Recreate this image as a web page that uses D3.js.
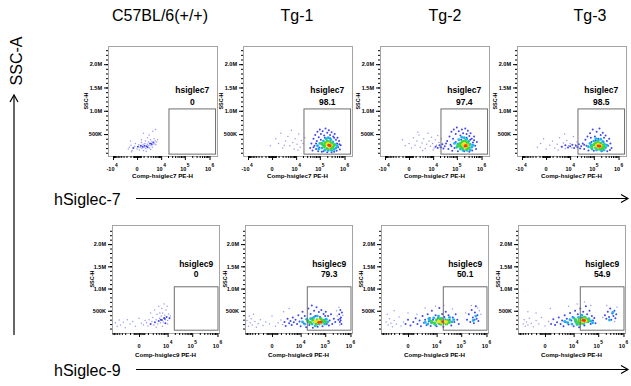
<!DOCTYPE html>
<html>
<head>
<meta charset="utf-8">
<script src="https://cdn.jsdelivr.net/npm/d3@7"></script>
<style>
  body { margin: 0; background: #fff; }
  svg { display: block; }
  text { font-family: Arial, "Liberation Sans", sans-serif; }
</style>
</head>
<body>
<svg id="chart" width="631" height="386"></svg>
<script>
// ---- data ----
const groups = ["C57BL/6(+/+)", "Tg-1", "Tg-2", "Tg-3"];
const markers = ["hSiglec-7", "hSiglec-9"];
const gateNames = ["hsiglec7", "hsiglec9"];
const xLabels = ["Comp-hsiglec7 PE-H", "Comp-hsiglec9 PE-H"];
const pct7 = ["0", "98.1", "97.4", "98.5"];
const pct9 = ["0", "79.3", "50.1", "54.9"];

// y in thousands (SSC-H)
const yTickVals = [500, 1000, 1500, 2000];
const yTickLabels = ["500K", "1.0M", "1.5M", "2.0M"];
const yMinorVals = d3.range(100, 2400, 100);
const xTickVals = [-10000, 0, 1e4, 1e5, 1e6];
const xTickBase = ["-10", "0", "10", "10", "10"];
const xTickExp = ["4", "", "4", "5", "6"];
const xMinorVals = [-9000, -8000, -7000, -6000, -5000, -4000, -3000, -2000, -1000,
  -500, -400, -300, -200, -100, 100, 200, 300, 400, 500,
  1000, 2000, 3000, 4000, 5000, 6000, 7000, 8000, 9000,
  2e4, 3e4, 4e4, 5e4, 6e4, 7e4, 8e4, 9e4, 2e5, 3e5, 4e5, 5e5, 6e5, 7e5, 8e5, 9e5, 2e6];

// gates: x in PE-H units, y in thousands
const gate7 = { x: [22000, 1750000], y: [70, 1040] };
const gate9 = { x: [19000, 1050000], y: [63, 1040] };

// events: [PE-H, SSC-H (K), density level 0..5]
const hs7_wt = [[-1500,180,0],[-1200,220,0],[-900,260,0],[-700,150,0],[-500,200,1],[-300,240,0],[-200,300,0],[0,180,0],[100,230,1],[200,270,0],[300,160,0],[400,210,0],[500,250,1],[600,320,0],[700,190,0],[800,230,1],[900,280,0],[1000,150,0],[1100,210,0],[1200,250,1],[1300,300,0],[1400,350,0],[1500,190,0],[1700,240,1],[1900,280,0],[2000,220,1],[2200,330,0],[2400,260,0],[2600,200,0],[2800,300,1],[3000,380,0],[3200,250,0],[3400,290,1],[3600,340,0],[3800,220,0],[4000,270,0],[4300,320,1],[4600,400,0],[5000,290,0],[5300,350,0],[5700,270,0],[6200,330,0],[6800,380,0],[-800,120,0],[1600,130,0],[2500,480,0],[4000,560,0],[1000,520,0],[5500,600,0],[-1000,350,0],[3000,170,0],[600,380,0],[2000,420,0]];

const hs7_tg1 = [[-200,250,0],[500,400,0],[1000,300,0],[1500,520,0],[2000,200,0],[3000,350,0],[4000,450,0],[5000,250,0],[6000,580,0],[7000,320,0],[8000,180,0],[9000,400,0],[11000,280,0],[13000,500,0],[15000,220,0],[17000,360,0],[20000,300,0],[24000,420,0],[2500,260,0],[12000,160,0],
  [40000,200,1],[45000,300,1],[50000,150,1],[55000,400,1],[60000,250,1],[65000,480,1],[70000,180,1],[75000,350,1],[80000,550,1],[85000,130,1],[90000,430,1],[100000,600,1],[110000,500,1],[120000,120,1],[130000,560,1],[150000,470,1],[170000,620,1],[200000,530,1],[230000,580,1],[260000,480,1],[300000,540,1],[350000,450,1],[400000,500,1],[450000,380,1],[500000,300,1],[550000,220,1],[600000,350,1],[650000,170,1],[700000,260,1],[480000,140,1],[380000,120,1],[300000,110,1],[200000,110,1],[140000,130,1],[95000,210,1],[70000,300,1],[55000,220,1],[110000,380,1],[160000,420,1],[260000,410,1],[380000,420,1],[520000,420,1],[620000,280,1],
  [80000,250,2],[100000,300,2],[120000,200,2],[140000,350,2],[160000,160,2],[180000,400,2],[220000,420,2],[280000,380,2],[340000,330,2],[400000,280,2],[450000,200,2],[380000,170,2],[300000,150,2],[220000,150,2],[130000,270,2],[90000,180,2],[500000,250,2],
  [120000,300,3],[150000,230,3],[170000,310,3],[200000,350,3],[250000,330,3],[300000,300,3],[330000,220,3],[280000,190,3],[200000,190,3],[160000,270,3],[380000,260,3],
  [200000,280,4],[240000,230,4],[280000,260,4],[220000,300,4],
  [230000,260,5],[260000,250,5]];

const hs7_tg2 = [[0,300,0],[300,200,0],[600,420,0],[900,260,0],[1300,350,0],[1800,480,0],[2200,220,0],[2800,310,0],[3500,400,0],[4200,190,0],[5000,280,0],[5800,520,0],[6500,350,0],[7500,240,0],[8500,430,0],[9500,300,0],[11000,200,0],[12500,380,0],[14000,260,0],[16000,470,0],[18000,320,0],[20000,220,0],[23000,400,0],[26000,280,0],[3000,150,0],[10000,160,0],[1500,540,0],[-500,250,0],[-1000,380,0],
  [13000,230,1],[16000,200,1],[19000,260,1],[22000,220,1],[25000,280,1],[28000,190,1],[32000,240,1],[36000,300,1],
  [40000,350,1],[45000,180,1],[50000,450,1],[55000,270,1],[60000,550,1],[65000,140,1],[70000,400,1],[75000,600,1],[80000,200,1],[90000,500,1],[100000,640,1],[110000,130,1],[120000,560,1],[140000,470,1],[160000,600,1],[180000,520,1],[200000,130,1],[220000,620,1],[250000,500,1],[280000,570,1],[320000,460,1],[360000,520,1],[400000,400,1],[450000,320,1],[500000,450,1],[550000,250,1],[600000,180,1],[650000,330,1],[420000,150,1],[320000,120,1],[150000,380,1],[250000,420,1],[350000,380,1],[90000,330,1],[60000,240,1],[500000,370,1],
  [80000,300,2],[100000,220,2],[120000,380,2],[140000,180,2],[160000,430,2],[200000,420,2],[250000,390,2],[300000,340,2],[350000,280,2],[400000,220,2],[350000,160,2],[260000,150,2],[180000,150,2],[110000,290,2],[450000,260,2],
  [110000,250,3],[140000,300,3],[170000,340,3],[210000,350,3],[260000,320,3],[310000,270,3],[300000,200,3],[240000,180,3],[170000,200,3],[140000,240,3],
  [180000,270,4],[220000,220,4],[260000,260,4],[200000,300,4],
  [215000,245,5],[240000,250,5]];

const hs7_tg3 = [[-1500,220,0],[-800,300,0],[0,180,0],[500,260,0],[1000,350,0],[1500,200,0],[2200,280,0],[3000,420,0],[3800,230,0],[4800,310,0],[6000,190,0],[7000,360,0],[8500,250,0],[10000,300,0],[12000,200,0],[14000,450,0],[17000,270,0],[20000,330,0],[2500,160,0],[5500,500,0],[-300,400,0],
  [4000,230,1],[6000,260,1],[8000,210,1],[10000,240,1],[12500,270,1],[15000,200,1],[18000,250,1],[21000,220,1],[24000,280,1],[27000,190,1],[30000,240,1],
  [35000,300,1],[40000,180,1],[45000,380,1],[50000,250,1],[55000,450,1],[60000,150,1],[70000,520,1],[80000,330,1],[90000,600,1],[100000,140,1],[110000,450,1],[130000,550,1],[150000,400,1],[170000,620,1],[190000,480,1],[210000,130,1],[230000,530,1],[260000,420,1],[300000,470,1],[340000,350,1],[380000,250,1],[420000,400,1],[470000,300,1],[520000,200,1],[450000,160,1],[350000,130,1],[120000,360,1],[250000,330,1],[75000,420,1],[40000,270,1],
  [60000,230,2],[70000,300,2],[85000,180,2],[100000,350,2],[120000,400,2],[150000,360,2],[190000,390,2],[230000,340,2],[270000,280,2],[300000,210,2],[260000,160,2],[200000,150,2],[130000,160,2],[80000,260,2],[340000,260,2],
  [80000,220,3],[100000,270,3],[120000,310,3],[150000,320,3],[190000,300,3],[230000,260,3],[220000,190,3],[170000,180,3],[120000,200,3],[260000,230,3],
  [130000,250,4],[160000,230,4],[190000,250,4],[150000,280,4],
  [150000,245,5],[175000,240,5]];

const hs9_wt = [[-6000,230,0],[-5000,150,0],[-4000,290,0],[-3500,180,0],[-2500,240,0],[-2000,120,0],[-1500,300,0],[-1000,200,0],[-600,260,0],[-300,150,0],[0,330,0],[200,220,0],[400,180,0],[600,280,0],
  [800,230,0],[1000,160,0],[1200,300,0],[1500,200,1],[1800,260,0],[2000,350,0],[2300,180,0],[2600,240,1],[3000,300,0],[3300,420,0],[3600,200,0],[4000,270,1],[4400,330,0],[4800,230,0],[5200,380,0],[5600,290,1],[6000,450,0],[6500,250,0],[7000,340,1],[7500,400,0],[8000,300,0],[8500,520,0],[9000,360,1],[10000,280,0],[11000,430,0],[12000,330,1],[13000,380,0],[2500,520,0],[4000,600,0],[7000,650,0],[9500,600,0],[1500,450,0],[5500,550,0],[3000,130,0],[6000,150,0],[10000,200,0],[4500,450,0],[8000,220,1],
  [5000,300,1],[7500,320,1]];

const hs9_tg1 = [[-8000,200,0],[-7000,280,0],[-6000,150,0],[-5000,230,0],[-4500,320,0],[-4000,180,0],[-3000,260,0],[-2500,130,0],[-2000,210,0],[-1500,300,0],[-1000,170,0],[-600,250,0],[-200,200,0],[0,380,0],[300,150,0],[600,230,0],[1000,290,0],[1300,190,0],[1700,250,1],[2000,160,1],[2500,320,1],[3000,220,1],[3500,270,1],[4000,180,1],[4500,350,1],[5000,240,1],[-3500,420,0],[1500,480,0],[3000,550,0],[-5500,380,0],
  [6000,300,1],[7000,200,1],[8000,400,1],[9000,260,1],[10000,150,1],[11000,330,1],[12000,480,1],[13500,220,1],[15000,380,1],[17000,130,1],[19000,290,1],[21000,550,1],[23000,180,1],[26000,430,1],[29000,620,1],[32000,120,1],[36000,500,1],[40000,380,1],[45000,580,1],[50000,140,1],[56000,470,1],[62000,360,1],[70000,520,1],[78000,150,1],[86000,430,1],[95000,300,1],[105000,480,1],[115000,200,1],[130000,380,1],[150000,280,1],[170000,420,1],[190000,200,1],[220000,320,1],[250000,250,1],[30000,330,1],[55000,280,1],[100000,380,1],[140000,170,1],
  [12000,250,2],[15000,200,2],[18000,310,2],[22000,240,2],[26000,320,2],[30000,200,2],[35000,350,2],[40000,160,2],[48000,380,2],[58000,200,2],[68000,320,2],[80000,250,2],[95000,200,2],[110000,310,2],[125000,250,2],
  [20000,270,3],[26000,230,3],[32000,290,3],[40000,240,3],[48000,290,3],[58000,260,3],[70000,230,3],[85000,280,3],[100000,250,3],[65000,310,3],[45000,200,3],
  [40000,260,4],[52000,250,4],[65000,240,4],[55000,280,4],
  [55000,238,5],[68000,245,5],
  [330000,300,1],[360000,420,1],[380000,250,1],[400000,520,1],[420000,350,1],[440000,200,1],[460000,460,1],[350000,580,0],[300000,380,0],[390000,320,1],[410000,280,1],[370000,180,0],[500000,400,0],[280000,500,0]];

const hs9_tg2 = [[-5000,250,0],[-4000,180,0],[-3500,320,0],[-3000,220,0],[-2500,140,0],[-2000,280,0],[-1500,200,0],[-1000,360,0],[-700,160,0],[-400,250,0],[-4500,420,0],[-2000,500,0],[0,450,0],
  [-200,200,1],[0,300,1],[200,170,1],[500,250,1],[800,330,1],[1100,200,1],[1500,280,1],[1800,150,1],[2200,380,1],[2600,230,1],[3000,300,1],[3500,180,1],[4000,420,1],[4500,260,1],[5000,340,1],[5500,160,1],[6200,500,1],[7000,300,1],[8000,220,1],[9000,400,1],[10000,150,1],[11500,340,1],[13000,560,1],[15000,250,1],[17000,430,1],[19000,140,1],[21000,360,1],[24000,480,1],[27000,200,1],[31000,400,1],[35000,290,1],[40000,170,1],[46000,350,1],[53000,250,1],[60000,420,1],[70000,300,1],[80000,200,1],[9000,600,0],[20000,620,0],[3000,560,0],[45000,540,0],[1000,420,0],
  [3000,240,2],[4000,200,2],[5000,280,2],[6000,230,2],[7500,340,2],[9000,180,2],[11000,270,2],[13000,210,2],[16000,330,2],[19000,240,2],[23000,300,2],[28000,230,2],[34000,350,2],[42000,250,2],[50000,300,2],[4500,320,2],[12000,380,2],
  [6000,260,3],[8000,220,3],[10000,290,3],[12000,240,3],[15000,200,3],[17000,280,3],[21000,250,3],[25000,210,3],[29000,280,3],[14000,320,3],[33000,240,3],
  [12000,260,4],[16000,240,4],[20000,270,4],[25000,250,4],
  [18000,255,5],
  [170000,300,1],[200000,420,1],[230000,250,1],[260000,520,1],[290000,350,1],[320000,220,1],[350000,460,1],[380000,600,1],[410000,320,1],[440000,400,1],[480000,270,1],[520000,500,0],[300000,280,2],[380000,380,2],[250000,620,0],[450000,560,0],[600000,420,0],[150000,450,0],[340000,300,1]];

const hs9_tg3 = [[-5000,200,0],[-4500,300,0],[-4000,150,0],[-3500,250,0],[-3000,180,0],[-2500,330,0],[-2000,220,0],[-1500,140,0],[-1000,280,0],[-600,200,0],[-300,350,0],[0,160,0],[300,260,0],[600,200,1],[900,310,1],[1200,180,1],[-3000,480,0],[-1000,450,0],[500,550,0],
  [1600,240,1],[2000,350,1],[2500,200,1],[3000,280,1],[3500,150,1],[4000,400,1],[4500,250,1],[5000,320,1],[6000,190,1],[7000,450,1],[8000,280,1],[9000,360,1],[10000,150,1],[11500,500,1],[13000,230,1],[15000,420,1],[17000,130,1],[19000,550,1],[22000,350,1],[25000,480,1],[28000,170,1],[32000,600,1],[36000,420,1],[40000,250,1],[45000,500,1],[50000,200,1],[56000,380,1],[62000,280,1],[70000,340,1],[78000,220,1],[6000,600,0],[14000,650,0],[28000,700,0],[50000,620,0],
  [4000,260,2],[5500,230,2],[7000,300,2],[8500,200,2],[10000,340,2],[12000,260,2],[14000,190,2],[16000,350,2],[19000,240,2],[22000,400,2],[26000,200,2],[30000,350,2],[35000,250,2],[42000,320,2],[50000,270,2],[60000,230,2],
  [12000,300,3],[14000,230,3],[17000,280,3],[20000,320,3],[22000,230,3],[26000,300,3],[30000,260,3],[35000,300,3],[40000,270,3],[28000,350,3],[18000,200,3],
  [20000,280,4],[24000,260,4],[28000,290,4],[32000,270,4],
  [24500,285,5],[28000,280,5],
  [185000,400,1],[210000,320,1],[240000,480,1],[270000,360,1],[300000,550,1],[330000,300,1],[360000,440,1],[400000,380,1],[440000,500,1],[480000,330,1],[520000,420,1],[560000,580,0],[280000,290,2],[380000,460,2],[150000,350,0],[220000,620,0],[450000,260,0]];

// ---- layout ----
const levelColor = ["#9a9af4", "#3f46f0", "#1cb6ee", "#3cd83c", "#f4e01c", "#f03c12"];
const levelRadius = [0.75, 1.0, 1.45, 1.75, 1.75, 1.45];
const titleX = [160, 297, 445, 590];

const rows = [
  { top: 46, bottom: 156, lefts: [108, 243, 380, 517], width: 109,
    xDomain: [-16600, 2000000], c: 1200, yDomain: [30, 2390],
    gate: gate7, pct: pct7, name: gateNames[0], xLabel: xLabels[0],
    data: [hs7_wt, hs7_tg1, hs7_tg2, hs7_tg3],
    nameDy: -16, pctDy: -4, labelDy: 22, sscDx: 20, arrowY: 198.5, markerY: 205 },
  { top: 225, bottom: 333, lefts: [112, 245, 381, 518], width: 107,
    xDomain: [-8500, 1150000], c: 800, yDomain: [0, 2430],
    gate: gate9, pct: pct9, name: gateNames[1], xLabel: xLabels[1],
    data: [hs9_wt, hs9_tg1, hs9_tg2, hs9_tg3],
    nameDy: -20, pctDy: -10, labelDy: 24, sscDx: 18, arrowY: 369.5, markerY: 376 }
];

const svg = d3.select("#chart");
const bold = "bold";

// column titles
svg.selectAll(".title")
  .data(groups)
  .join("text")
  .attr("class", "title")
  .attr("x", (d, i) => titleX[i])
  .attr("y", 21)
  .attr("text-anchor", "middle")
  .attr("font-size", 16)
  .text(d => d);

rows.forEach((r, ri) => {
  r.lefts.forEach((left, ci) => {
    const x = d3.scaleSymlog().constant(r.c).domain(r.xDomain).range([left, left + r.width]);
    const y = d3.scaleLinear().domain(r.yDomain).range([r.bottom, r.top]);
    const g = svg.append("g");

    // frame
    g.append("rect")
      .attr("x", left + 0.5)
      .attr("y", r.top + 0.5)
      .attr("width", r.width)
      .attr("height", r.bottom - r.top)
      .attr("fill", "none")
      .attr("stroke", "#a4a4a4");

    // events, low density first
    const pts = r.data[ci].slice().sort((a, b) => a[2] - b[2]);
    g.append("g")
      .selectAll("circle")
      .data(pts)
      .join("circle")
      .attr("cx", d => x(d[0]))
      .attr("cy", d => y(d[1]))
      .attr("r", d => levelRadius[d[2]])
      .attr("fill", d => levelColor[d[2]]);

    // gate
    const gx0 = x(r.gate.x[0]), gx1 = x(r.gate.x[1]);
    const gy0 = y(r.gate.y[1]), gy1 = y(r.gate.y[0]);
    g.append("rect")
      .attr("x", gx0)
      .attr("y", gy0)
      .attr("width", gx1 - gx0)
      .attr("height", gy1 - gy0)
      .attr("fill", "none")
      .attr("stroke", "#6e6e6e")
      .attr("stroke-width", 1);
    g.append("text")
      .attr("x", (gx0 + gx1) / 2)
      .attr("y", gy0 + r.nameDy)
      .attr("text-anchor", "middle")
      .attr("font-size", 8.5)
      .attr("font-weight", bold)
      .text(r.name);
    g.append("text")
      .attr("x", (gx0 + gx1) / 2)
      .attr("y", gy0 + r.pctDy)
      .attr("text-anchor", "middle")
      .attr("font-size", 8.5)
      .attr("font-weight", bold)
      .text(r.pct[ci]);

    // y axis
    const yAxis = g.append("g").attr("transform", `translate(${left},0)`);
    yAxis.call(d3.axisLeft(y).tickValues(yMinorVals).tickSize(2).tickFormat(""))
      .call(s => s.select(".domain").remove());
    const yMajor = g.append("g").attr("transform", `translate(${left},0)`);
    yMajor.call(d3.axisLeft(y).tickValues(yTickVals).tickSize(4).tickPadding(2)
        .tickFormat((d, i) => yTickLabels[i]))
      .call(s => s.select(".domain").remove());
    yMajor.selectAll("text")
      .attr("font-size", 5.5)
      .attr("font-weight", bold)
      .attr("font-family", "Arial, 'Liberation Sans', sans-serif");

    // x axis
    const xAxisMinor = g.append("g").attr("transform", `translate(0,${r.bottom})`);
    xAxisMinor.call(d3.axisBottom(x).tickValues(xMinorVals.filter(v => v > r.xDomain[0] && v < r.xDomain[1]))
        .tickSize(2).tickFormat(""))
      .call(s => s.select(".domain").remove());
    const xv = xTickVals.map((v, i) => i).filter(i => xTickVals[i] >= r.xDomain[0] && xTickVals[i] <= r.xDomain[1]);
    const xAxis = g.append("g").attr("transform", `translate(0,${r.bottom})`);
    xAxis.call(d3.axisBottom(x).tickValues(xv.map(i => xTickVals[i])).tickSize(4).tickFormat(""))
      .call(s => s.select(".domain").remove());

    const lab = g.append("g")
      .selectAll("g")
      .data(xv)
      .join("g")
      .attr("transform", i => `translate(${x(xTickVals[i])},${r.bottom + 15})`);
    lab.append("text")
      .attr("x", i => xTickExp[i] ? 1.5 : 0)
      .attr("text-anchor", i => xTickExp[i] ? "end" : "middle")
      .attr("font-size", 5.5)
      .attr("font-weight", bold)
      .text(i => xTickBase[i]);
    lab.append("text")
      .attr("x", 2)
      .attr("y", -4.5)
      .attr("font-size", 4.8)
      .attr("font-weight", bold)
      .text(i => xTickExp[i]);

    // axis titles
    g.append("text")
      .attr("x", left + r.width / 2)
      .attr("y", r.bottom + r.labelDy)
      .attr("text-anchor", "middle")
      .attr("font-size", 6.2)
      .attr("font-weight", bold)
      .text(r.xLabel);
    g.append("text")
      .attr("transform", `translate(${left - r.sscDx},${(r.top + r.bottom) / 2}) rotate(-90)`)
      .attr("text-anchor", "middle")
      .attr("font-size", 5.5)
      .attr("font-weight", bold)
      .text("SSC-H");
  });

  // marker arrow
  svg.append("text")
    .attr("x", 54)
    .attr("y", r.markerY)
    .attr("font-size", 16)
    .text(markers[ri]);
  svg.append("line")
    .attr("x1", 136).attr("x2", 628)
    .attr("y1", r.arrowY).attr("y2", r.arrowY)
    .attr("stroke", "#000").attr("stroke-width", 1.2);
  svg.append("path")
    .attr("d", `M621,${r.arrowY - 4}L628,${r.arrowY}L621,${r.arrowY + 4}`)
    .attr("fill", "none").attr("stroke", "#000").attr("stroke-width", 1.2);
});

// SSC-A arrow
svg.append("line")
  .attr("x1", 14).attr("x2", 14).attr("y1", 335).attr("y2", 95)
  .attr("stroke", "#000").attr("stroke-width", 1.2);
svg.append("path")
  .attr("d", "M10,102L14,95L18,102")
  .attr("fill", "none").attr("stroke", "#000").attr("stroke-width", 1.2);
svg.append("text")
  .attr("transform", "translate(21.5,61) rotate(-90)")
  .attr("text-anchor", "middle")
  .attr("font-size", 16)
  .text("SSC-A");
</script>
</body>
</html>
